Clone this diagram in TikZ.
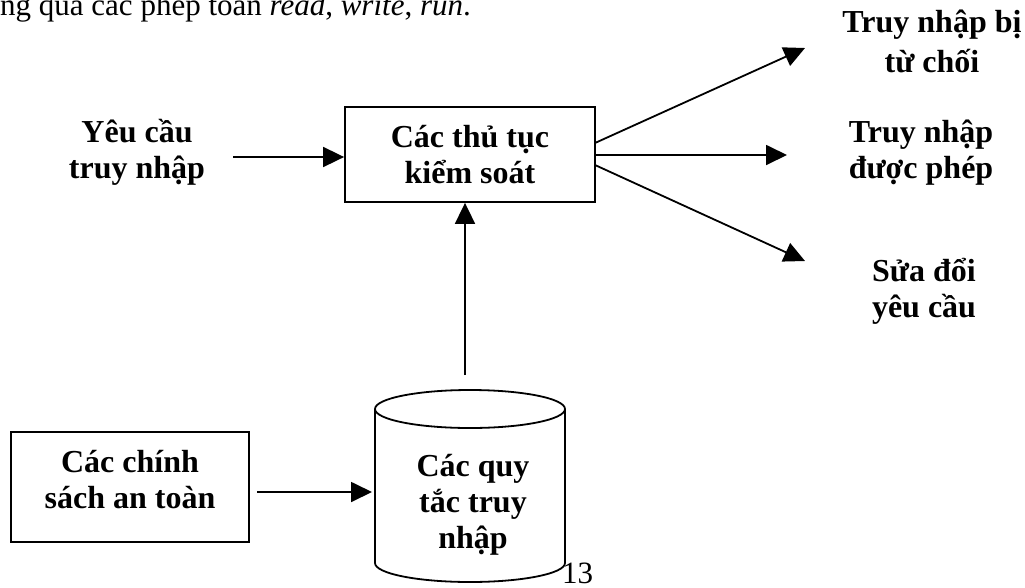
\documentclass[tikz,border=0pt]{standalone}
\usepackage{fontspec}
\setmainfont{Liberation Serif}
\usetikzlibrary{arrows.meta}
\begin{document}
\begin{tikzpicture}[x=1pt,y=-1pt,
  lbl/.style={font=\fontsize{32}{36}\selectfont\bfseries, align=center, inner sep=0pt},
  plaintext/.style={font=\fontsize{31}{35}\selectfont, inner sep=0pt},
  boxn/.style={draw, line width=1.8pt, inner sep=0pt},
  shp/.style={line width=1.8pt},
  conn/.style={line width=1.8pt, -{Triangle[length=21pt,width=20pt]}}]
\useasboundingbox (0,0) rectangle (1025,587);
\clip (0,0) rectangle (1025,587);

% cut text at top
\node[plaintext, anchor=base west] (topline) at (0,15) {ng qua các phép toán \textit{read}, \textit{write}, \textit{run}.};

% control box
\node[boxn, lbl, minimum width=250pt, minimum height=95pt] (ctrl) at (470,154.5) {Các thủ tục\\kiểm soát};

% request label
\node[lbl] (req) at (137,152) {Yêu cầu\\truy nhập};

% policy box
\node[boxn, minimum width=238pt, minimum height=110pt] (policy) at (130,487) {};
\node[lbl] (policytext) at (130,480) {Các chính\\sách an toàn};

% cylinder
\draw[shp] (375,409) -- (375,563) arc[start angle=180, end angle=360, x radius=95pt, y radius=19pt] -- (565,409);
\draw[shp] (470,409) ellipse [x radius=95pt, y radius=19pt];
\node[lbl] (rules) at (473,505) {Các quy\\tắc truy\\nhập};

% page number
\node[plaintext, anchor=base west] (pagenum) at (562,583) {13};

% outputs
\node[lbl, font=\fontsize{32}{40}\selectfont\bfseries] (denied) at (932,41) {Truy nhập bị\\từ chối};
\node[lbl] (allowed) at (921,153) {Truy nhập\\được phép};
\node[lbl] (modify) at (924,291) {Sửa đổi\\yêu cầu};

% connector coordinates
\coordinate (inStart) at (233,157);
\coordinate (vStart) at (465,375);
\coordinate (pStart) at (257,492);
\coordinate (pEnd) at (372,492);
\coordinate (o1) at (595,143);
\coordinate (o2) at (595,155);
\coordinate (o3) at (595,165);
\coordinate (t1) at (805,48);
\coordinate (t2) at (787,155);
\coordinate (t3) at (805,261);

\draw[conn] (inStart) -- (inStart -| ctrl.west);
\draw[conn] (vStart) -- (vStart |- ctrl.south);
\draw[conn] (pStart) -- (pEnd);
\draw[conn] (o1) -- (t1);
\draw[conn] (o2) -- (t2);
\draw[conn] (o3) -- (t3);
\end{tikzpicture}
\end{document}
